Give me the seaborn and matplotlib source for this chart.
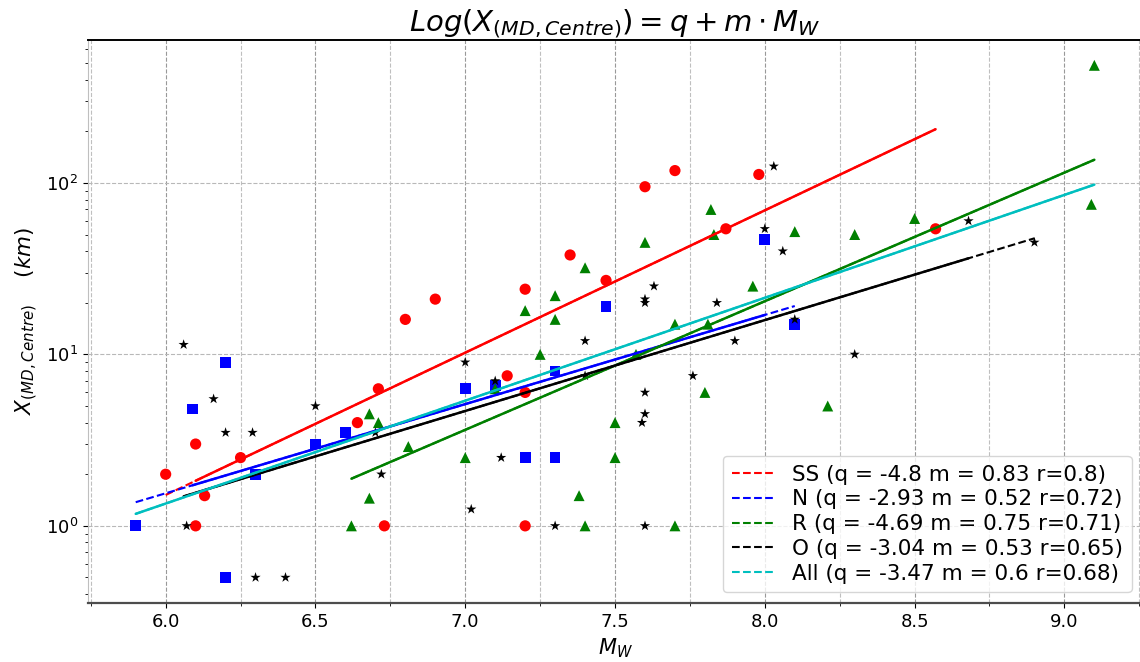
import numpy as np
import pandas as pd
import matplotlib
matplotlib.use("Agg")
import matplotlib.pyplot as plt
from matplotlib.ticker import MultipleLocator
from matplotlib.lines import Line2D
import seaborn as sns

# Fault-mechanism samples: moment magnitude and distance (km)
ss_mw = [6.0, 6.1, 6.25, 6.13, 6.1, 6.64, 6.71, 6.8, 6.73, 6.9, 7.14, 7.2, 7.2, 7.2,
         7.35, 7.47, 7.6, 7.7, 7.87, 7.98, 8.57]
ss_x = [2.0, 3.0, 2.5, 1.5, 1.0, 4.0, 6.3, 16, 1.0, 21, 7.5, 6.0, 24, 1.0,
        38, 27, 95, 118, 54, 112, 54]

n_mw = [5.9, 6.09, 6.2, 6.2, 6.3, 6.5, 6.6, 7.0, 7.1, 7.2, 7.3, 7.3, 7.47, 8.0, 8.1]
n_x = [1.0, 4.8, 9.0, 0.5, 2.0, 3.0, 3.5, 6.3, 6.6, 2.5, 2.5, 8.0, 19, 47, 15]

r_mw = [6.62, 6.68, 6.68, 6.71, 6.81, 7.0, 7.1, 7.2, 7.25, 7.3, 7.3, 7.38, 7.4, 7.4,
        7.5, 7.5, 7.57, 7.6, 7.7, 7.7, 7.8, 7.81, 7.82, 7.83, 7.96, 8.1, 8.21, 8.3,
        8.5, 9.09, 9.1]
r_x = [1.0, 1.45, 4.5, 4.0, 2.9, 2.5, 6.3, 18, 10, 22, 16, 1.5, 32, 1.0,
       4.0, 2.5, 10, 45, 15, 1.0, 6.0, 15, 70, 50, 25, 52, 5.0, 50,
       62, 75, 485]

o_mw = [6.06, 6.07, 6.16, 6.2, 6.29, 6.3, 6.4, 6.5, 6.7, 6.72, 7.0, 7.02, 7.1, 7.12,
        7.3, 7.4, 7.4, 7.59, 7.6, 7.6, 7.6, 7.6, 7.6, 7.63, 7.76, 7.84, 7.9, 8.0,
        8.03, 8.06, 8.1, 8.3, 8.68, 8.9]
o_x = [11.4, 1.0, 5.5, 3.5, 3.5, 0.5, 0.5, 5.0, 3.5, 2.0, 9.0, 1.25, 7.0, 2.5,
       1.0, 12, 7.5, 4.0, 4.5, 6.0, 20, 21, 1.0, 25, 7.5, 20, 12, 54,
       125, 40, 16, 10, 60, 45]

# Regression coefficients: log10(X) = q + m * Mw
groups = ["SS", "N", "R", "O", "All"]
q_vals = [-4.8, -2.93, -4.69, -3.04, -3.47]
m_vals = [0.83, 0.52, 0.75, 0.53, 0.6]
r_vals = [0.8, 0.72, 0.71, 0.65, 0.68]
# Magnitude interval of the solid regression segment for each group
solid_lo = [6.1, 6.09, 6.62, 6.06, 5.9]
solid_hi = [8.57, 8.0, 9.1, 8.68, 9.1]

colors = {"SS": "r", "N": "b", "R": "g", "O": "k", "All": "c"}
markers = {"SS": "o", "N": "s", "R": "^", "O": "*"}

points = pd.concat([
    pd.DataFrame({"Mw": ss_mw, "X": ss_x, "type": "SS"}),
    pd.DataFrame({"Mw": n_mw, "X": n_x, "type": "N"}),
    pd.DataFrame({"Mw": r_mw, "X": r_x, "type": "R"}),
    pd.DataFrame({"Mw": o_mw, "X": o_x, "type": "O"}),
], ignore_index=True)

sns.set_style("ticks")
plt.rcParams["font.family"] = ["DejaVu Sans"]
plt.rcParams["mathtext.fontset"] = "dejavusans"
plt.rcParams["text.color"] = "black"
plt.rcParams["axes.labelcolor"] = "black"
plt.rcParams["xtick.color"] = "black"
plt.rcParams["ytick.color"] = "black"

fig = plt.figure(figsize=(11.4, 6.62), dpi=100)
ax = fig.add_axes([0.077, 0.089, 0.925, 0.851])

sizes = {"SS": 65, "N": 60, "R": 62, "O": 60}
for g in ["SS", "N", "R", "O"]:
    sub = points[points["type"] == g]
    sns.scatterplot(data=sub, x="Mw", y="X", color=colors[g], marker=markers[g],
                    s=sizes[g], edgecolor="none", ax=ax, legend=False, zorder=3)

mw_groups = {"SS": ss_mw, "N": n_mw, "R": r_mw, "O": o_mw,
             "All": ss_mw + n_mw + r_mw + o_mw}

handles = []
for g, q, m, r, lo, hi in zip(groups, q_vals, m_vals, r_vals, solid_lo, solid_hi):
    mw = mw_groups[g]
    xs = np.array([min(mw), max(mw)])
    ax.plot(xs, 10 ** (q + m * xs), ls="--", color=colors[g], lw=1.5, zorder=4)
    xs2 = np.array([lo, hi])
    ax.plot(xs2, 10 ** (q + m * xs2), ls="-", color=colors[g], lw=1.8, zorder=4)
    handles.append(Line2D([], [], ls="--", color=colors[g], lw=1.5,
                          label=f"{g} (q = {q} m = {m} r={r})"))

ax.set_yscale("log")
ax.margins(x=0.05, y=0.05)
ax.xaxis.set_major_locator(MultipleLocator(0.5))
ax.xaxis.set_minor_locator(MultipleLocator(0.25))
ax.grid(which="major", axis="x", ls="--", color="0.6", lw=0.8)
ax.grid(which="minor", axis="x", ls="--", color="0.75", lw=0.8)
ax.grid(which="major", axis="y", ls="--", color="0.72", lw=0.8)

ax.tick_params(axis="both", which="major", labelsize=13)
ax.spines["right"].set_visible(False)
ax.spines["left"].set_color("0.75")
ax.spines["bottom"].set_color("0.3")
ax.spines["bottom"].set_linewidth(1.6)
ax.spines["top"].set_color("black")
ax.spines["top"].set_linewidth(1.4)

ax.set_title(r"$Log(X_{(MD,Centre)}) = q + m \cdot M_W$", fontsize=21)
ax.set_xlabel(r"$M_W$", fontsize=15)
ax.set_ylabel(r"$X_{(MD,Centre)}\quad\;(km)$", fontsize=15.5)

ax.legend(handles=handles, loc="lower right", fontsize=15.5, handlelength=1.9,
          handletextpad=0.9, labelspacing=0.22, framealpha=0.8)

fig.savefig("out.png", dpi=100)
